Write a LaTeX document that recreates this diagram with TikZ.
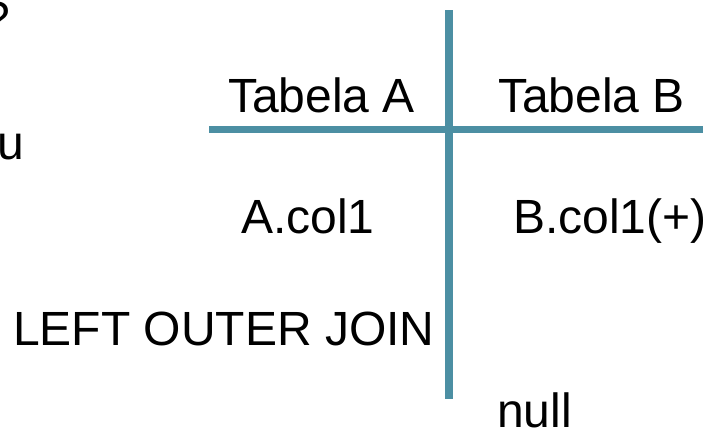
\documentclass[tikz,border=0pt]{standalone}
\usepackage{fontspec}
\setmainfont{Liberation Sans}
\definecolor{rule}{RGB}{76,143,163}
\begin{document}
\begin{tikzpicture}[x=1pt,y=-1pt,
  lbl/.style={anchor=base west,inner sep=0pt,font=\fontsize{48}{56}\selectfont,text=black},
  bar/.style={draw=rule,line width=7.5pt}]
\useasboundingbox (0,0) rectangle (719,429);
\clip (0,0) rectangle (719,429);
\coordinate (vtop) at (449,10);
\coordinate (vbot) at (449,399);
\coordinate (hl) at (209,129.5);
\coordinate (hr) at (703,129.5);
\draw[bar] (vtop) -- (vbot);
\draw[bar] (hl) -- (hr);
\node[lbl] (q) at (-17,35) {?};
\node[lbl] (u) at (-3,159) {u};
\node[lbl] (ta) at (228,112) {Tabela A};
\node[lbl] (tb) at (498,112) {Tabela B};
\node[lbl] (ac) at (241,233) {A.col1};
\node[lbl] (bc) at (513,233) {B.col1(+)};
\node[lbl] (loj) at (13,345) {LEFT OUTER JOIN};
\node[lbl] (nl) at (497,427) {null};
\end{tikzpicture}
\end{document}
